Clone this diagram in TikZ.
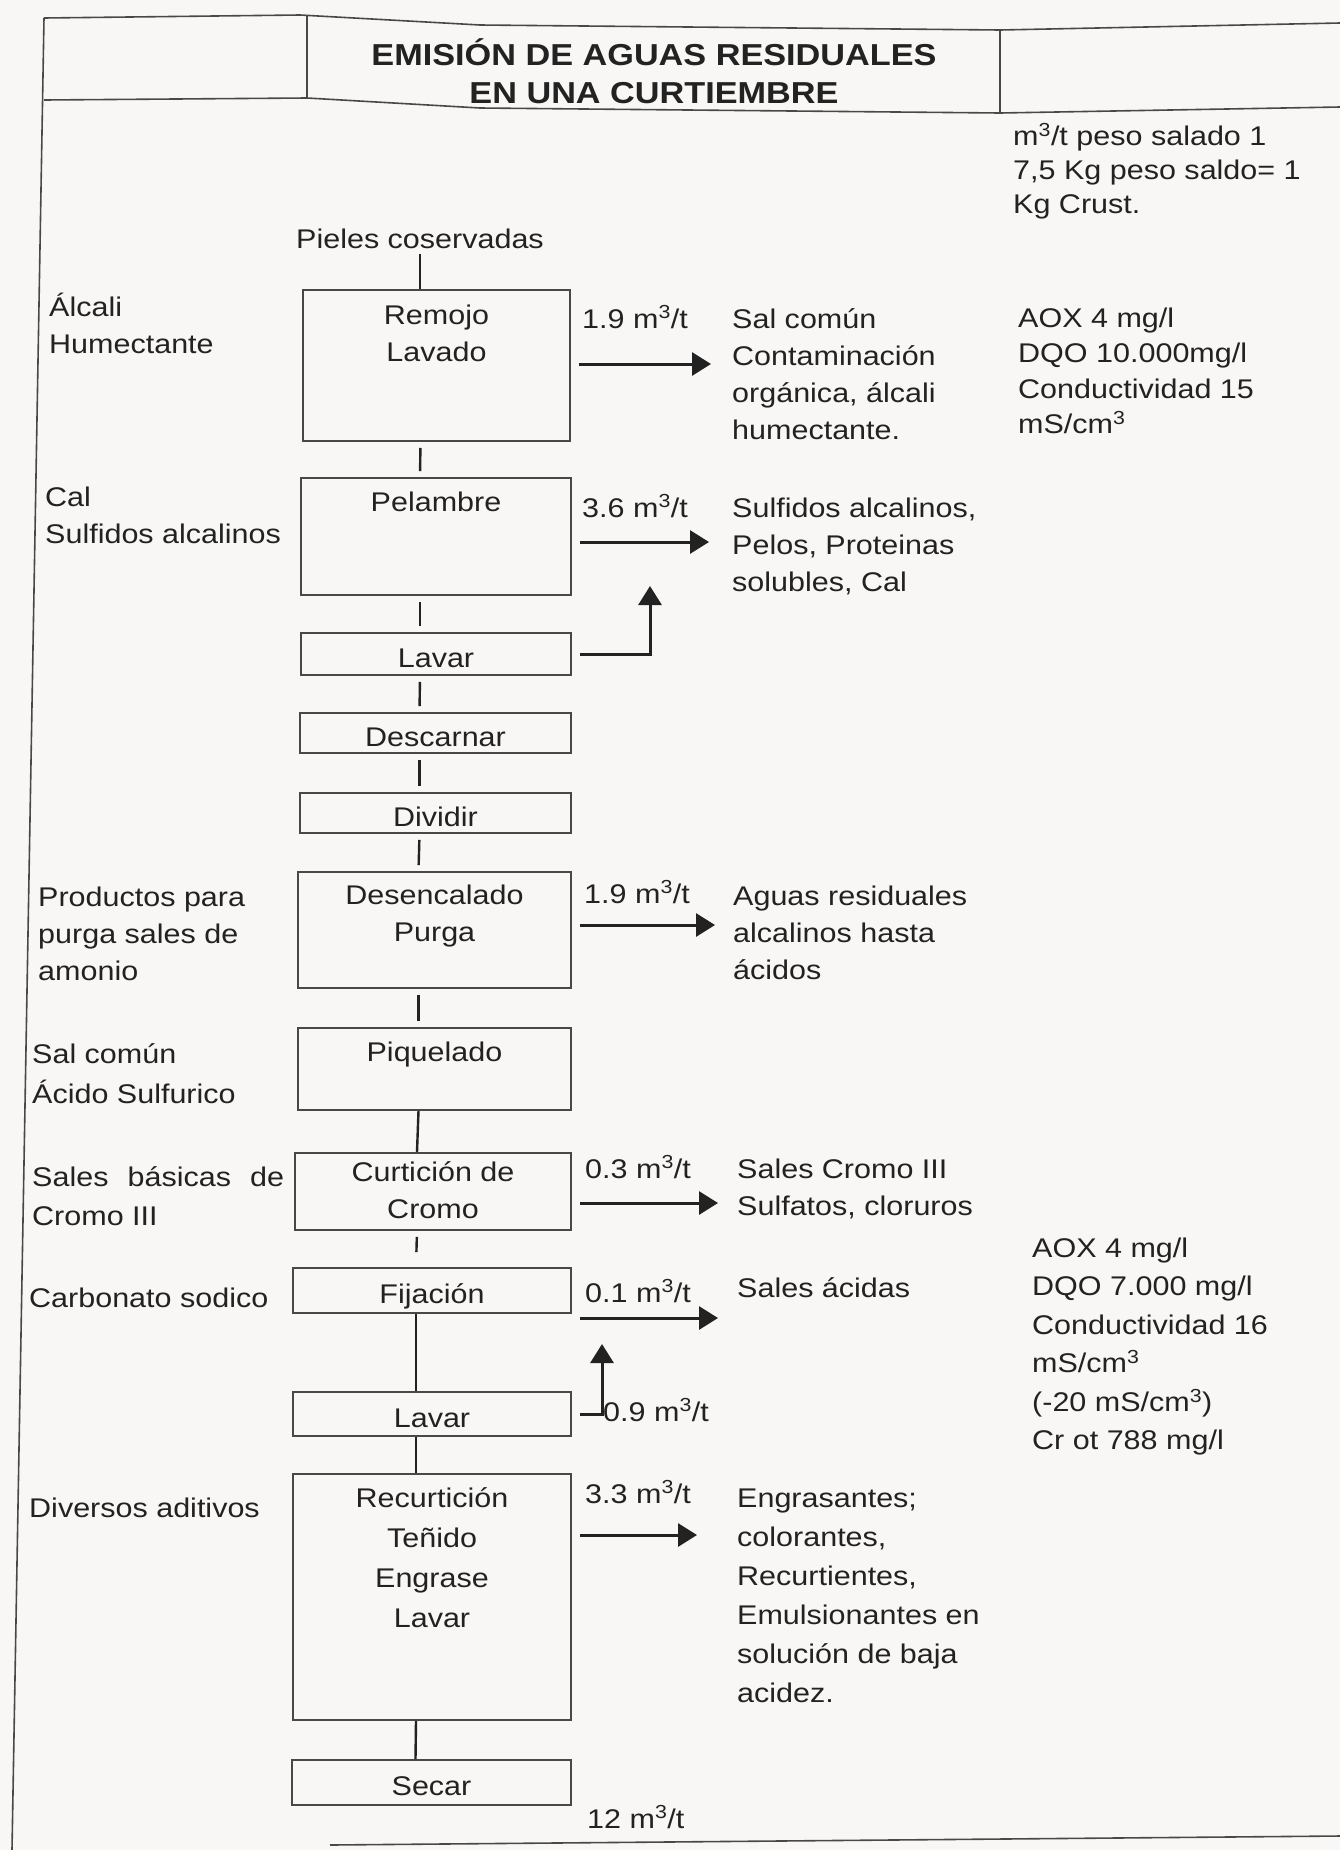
\documentclass[tikz,border=0pt]{standalone}
\usepackage{fontspec}
\setmainfont[FakeStretch=1.13]{Liberation Sans}
\usetikzlibrary{arrows.meta}
\definecolor{ink}{RGB}{34,34,34}
\definecolor{rulec}{RGB}{72,72,72}
\definecolor{paper}{RGB}{248,247,245}
\newcommand\txtfont{\fontsize{27}{37}\selectfont}
\newcommand\headfont{\fontsize{30.3}{38}\selectfont\bfseries}
\newcommand\cub{m\textsuperscript{3}}
\newcommand\fstrut{\rule{0pt}{26pt}}
\tikzset{
  stage/.style={draw=rulec,line width=1.8pt,inner sep=0pt,text height=26pt,text depth=0pt},
  stagetxt/.style={anchor=north,align=center,inner sep=0pt},
  side/.style={anchor=north west,align=left,inner sep=0pt},
  rate/.style={anchor=base west,inner sep=0pt},
  flow/.style={-{Triangle[length=19pt,width=23pt]},draw=ink,line width=3pt,shorten <=8pt},
  tick/.style={draw=ink,line width=2.4pt,shorten <=6pt,shorten >=6pt},
  link/.style={draw=ink,line width=2.4pt},
  frame/.style={draw=rulec,line width=1.6pt},
}
\begin{document}
\begin{tikzpicture}[x=1pt,y=-1pt,every node/.style={font=\txtfont,text=ink}]
\fill[paper] (0,0) rectangle (1340,1850);
\useasboundingbox (0,0) rectangle (1340,1850);
\draw[frame] (44,18) -- (300,15) -- (480,25) -- (1000,30) -- (1340,23);
\draw[frame] (44,100) -- (307,98) -- (480,108) -- (1000,113) -- (1340,107);
\draw[frame] (307,15) -- (307,98);
\draw[frame] (1000,30) -- (1000,113);
\draw[frame] (44,18) -- (12,1850);
\draw[frame] (330,1845) -- (1340,1836);
\node[font=\headfont,anchor=north,align=center,inner sep=0pt] (title) at (654,36) {\rule{0pt}{29pt}EMISIÓN DE AGUAS RESIDUALES\\EN UNA CURTIEMBRE};
\node[side] (note) at (1013,119) {\fstrut\cub/t peso salado 1\\[-3pt]7,5 Kg peso saldo= 1\\[-3pt]Kg Crust.};
\node[rate,anchor=base] (pieles) at (420,248) {Pieles coservadas};
\node[stage,minimum width=267,minimum height=151] (remojo) at (436.5,365.5) {};
\node[stage,minimum width=270,minimum height=117] (pelambre) at (436,536.5) {};
\node[stage,minimum width=270,minimum height=42] (lavarA) at (436,654) {Lavar};
\node[stage,minimum width=271,minimum height=40] (descarnar) at (435.5,733) {Descarnar};
\node[stage,minimum width=271,minimum height=40] (dividir) at (435.5,813) {Dividir};
\node[stage,minimum width=273,minimum height=116] (desencalado) at (434.5,930) {};
\node[stage,minimum width=273,minimum height=82] (piquelado) at (434.5,1069) {};
\node[stage,minimum width=276,minimum height=77] (curticion) at (433,1191.5) {};
\node[stage,minimum width=278,minimum height=45] (fijacion) at (432,1290.5) {Fijación};
\node[stage,minimum width=278,minimum height=44] (lavarB) at (432,1414) {Lavar};
\node[stage,minimum width=278,minimum height=246] (recurticion) at (432,1597) {};
\node[stage,minimum width=279,minimum height=45] (secar) at (431.5,1782.5) {Secar};
\node[stagetxt] (tremojo) at ([yshift=-9pt]remojo.north) {\fstrut Remojo\\Lavado};
\node[stagetxt] (tpelambre) at ([yshift=-8pt]pelambre.north) {\fstrut Pelambre};
\node[stagetxt] (tdesencalado) at ([yshift=-7pt]desencalado.north) {\fstrut Desencalado\\Purga};
\node[stagetxt] (tpiquelado) at ([yshift=-8pt]piquelado.north) {\fstrut Piquelado};
\node[stagetxt] (tcurticion) at ([yshift=-3pt]curticion.north) {\fstrut Curtición de\\Cromo};
\node[stagetxt] (trecurticion) at ([yshift=-8pt]recurticion.north) {\fstrut Recurtición\\[3pt]Teñido\\[3pt]Engrase\\[3pt]Lavar};
\node[side] (alcali) at (49,290) {\fstrut Álcali\\Humectante};
\node[side] (cal) at (45,480) {\fstrut Cal\\Sulfidos alcalinos};
\node[side] (productos) at (38,880) {\fstrut Productos para\\purga sales de\\amonio};
\node[side] (salcomun) at (32,1037) {\fstrut Sal común\\[3pt]Ácido Sulfurico};
\node[side] (basicas) at (32,1160) {\fstrut\makebox[252pt][s]{Sales básicas de}\\[2pt]Cromo III};
\node[rate] (carbonato) at (29,1307) {Carbonato sodico};
\node[rate] (diversos) at (29,1517) {Diversos aditivos};
\node[rate] (q1) at (582,328) {1.9 \cub/t};
\node[rate] (q2) at (582,517) {3.6 \cub/t};
\node[rate] (q3) at (584,903) {1.9 \cub/t};
\node[rate] (q4) at (585,1178) {0.3 \cub/t};
\node[rate] (q5) at (585,1302) {0.1 \cub/t};
\node[rate] (q6) at (603,1421) {0.9 \cub/t};
\node[rate] (q7) at (585,1503) {3.3 \cub/t};
\node[rate] (q8) at (587,1828) {12 \cub/t};
\node[side] (w1) at (732,302) {\fstrut Sal común\\Contaminación\\orgánica, álcali\\humectante.};
\node[side] (w2) at (732,491) {\fstrut Sulfidos alcalinos,\\Pelos, Proteinas\\solubles, Cal};
\node[side] (w3) at (733,879) {\fstrut Aguas residuales\\alcalinos hasta\\ácidos};
\node[side] (w4) at (737,1152) {\fstrut Sales Cromo III\\Sulfatos, cloruros};
\node[rate] (w5) at (737,1297) {Sales ácidas};
\node[side] (w6) at (737,1481) {\fstrut Engrasantes;\\[2pt]colorantes,\\[2pt]Recurtientes,\\[2pt]Emulsionantes en\\[2pt]solución de baja\\[2pt]acidez.};
\node[side] (aox1) at (1018,301) {\fstrut AOX 4 mg/l\\[-1.5pt]DQO 10.000mg/l\\[-1.5pt]Conductividad 15\\[-1.5pt]mS/cm\textsuperscript{3}};
\node[side] (aox2) at (1032,1231) {\fstrut AOX 4 mg/l\\[1.5pt]DQO 7.000 mg/l\\[1.5pt]Conductividad 16\\[1.5pt]mS/cm\textsuperscript{3}\\[1.5pt](-20 mS/cm\textsuperscript{3})\\[1.5pt]Cr ot 788 mg/l};
\coordinate (tip1) at (711,364);
\coordinate (tip2) at (709,542);
\coordinate (tip3) at (715,925);
\coordinate (tip4) at (718,1203);
\coordinate (tip5) at (718,1318);
\coordinate (tip6) at (697,1535);
\coordinate (up1) at (650,586);
\coordinate (up2) at (602,1344);
\draw[link,shorten <=6pt] (pieles.south) -- (pieles.south |- remojo.north);
\draw[tick] ([xshift=-16pt]remojo.south) -- ([xshift=-16pt]pelambre.north);
\draw[tick] ([xshift=-16pt]pelambre.south) -- ([xshift=-16pt]lavarA.north);
\draw[tick] ([xshift=-16pt]lavarA.south) -- ([xshift=-16pt]descarnar.north);
\draw[tick] ([xshift=-16pt]descarnar.south) -- ([xshift=-16pt]dividir.north);
\draw[tick] ([xshift=-16pt]dividir.south) -- ([xshift=-16pt]desencalado.north);
\draw[tick] ([xshift=-16pt]desencalado.south) -- ([xshift=-16pt]piquelado.north);
\draw[link] ([xshift=-16pt]piquelado.south) -- ([xshift=-16pt]curticion.north);
\draw[tick,shorten >=15pt] ([xshift=-16pt]curticion.south) -- ([xshift=-16pt]fijacion.north);
\draw[link] ([xshift=-16pt]fijacion.south) -- ([xshift=-16pt]lavarB.north);
\draw[link] ([xshift=-16pt]lavarB.south) -- ([xshift=-16pt]recurticion.north);
\draw[link] ([xshift=-16pt]recurticion.south) -- ([xshift=-16pt]secar.north);
\draw[flow] (remojo.east |- tip1) -- (tip1);
\draw[flow] (pelambre.east |- tip2) -- (tip2);
\draw[flow] (desencalado.east |- tip3) -- (tip3);
\draw[flow] (curticion.east |- tip4) -- (tip4);
\draw[flow] (fijacion.east |- tip5) -- (tip5);
\draw[flow] (recurticion.east |- tip6) -- (tip6);
\draw[flow] (lavarA.east) -- (lavarA.east -| up1) -- (up1);
\draw[flow] (lavarB.east) -- (lavarB.east -| up2) -- (up2);
\end{tikzpicture}
\end{document}
